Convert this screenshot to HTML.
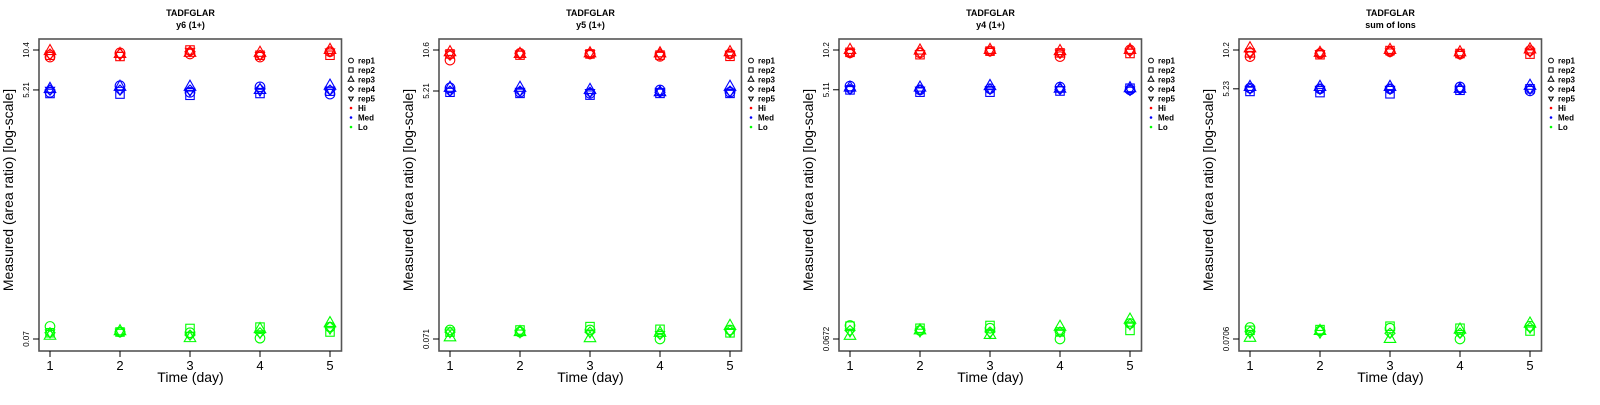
<!DOCTYPE html>
<html><head><meta charset="utf-8"><style>
body{margin:0;background:#fff;width:1600px;height:400px;overflow:hidden}
svg text{font-family:"Liberation Sans",sans-serif}
</style></head><body>
<svg id="chart" width="1600" height="400" xmlns="http://www.w3.org/2000/svg"></svg>
<script>
const days = [1,2,3,4,5];
const reps = ["rep1","rep2","rep3","rep4","rep5"];
const titles = ["y6 (1+)","y5 (1+)","y4 (1+)","sum of Ions"];
const tickTop = [10.4,10.6,10.2,10.2];
const tickMid = [5.21,5.21,5.11,5.23];
const tickLow = [0.07,0.071,0.0672,0.0706];
// [panel][rep][day]
const hiVals = [
 [[9.2,9.9,9.7,9.2,10.1],[9.5,9.3,10.4,9.5,9.5],[10.2,9.7,9.9,9.9,10.4],[9.7,9.7,10.1,9.5,10.1],[9.5,9.5,10.2,9.5,10.1]],
 [[8.9,10.0,9.9,9.5,9.9],[9.9,9.7,9.9,9.7,9.5],[10.2,9.9,10.0,10.0,10.2],[9.7,10.0,9.9,9.9,9.9],[9.9,9.9,10.0,9.7,9.9]],
 [[9.7,9.7,10.0,9.1,10.2],[9.8,9.4,10.0,9.7,9.6],[10.2,10.1,10.2,10.0,10.2],[9.7,9.8,10.0,9.6,10.0],[9.8,9.6,10.0,9.7,9.9]],
 [[9.1,9.6,9.9,9.5,10.1],[9.7,9.4,10.1,9.6,9.5],[10.5,9.7,10.2,9.8,10.3],[9.9,9.6,9.9,9.5,9.9],[9.5,9.6,9.9,9.5,9.9]]
];
const medVals = [
 [[5.0,5.6,5.0,5.5,4.85],[4.9,4.85,4.75,4.9,5.1],[5.3,5.5,5.5,5.2,5.6],[5.2,5.2,5.2,5.3,5.2],[5.2,5.2,5.1,5.1,5.2]],
 [[5.5,5.1,5.0,5.3,5.1],[5.1,5.0,4.85,5.0,5.0],[5.5,5.5,5.3,5.1,5.6],[5.2,5.2,5.1,5.1,5.2],[5.2,5.2,5.1,5.2,5.1]],
 [[5.45,5.1,5.2,5.35,5.1],[5.1,4.9,4.9,5.0,5.25],[5.3,5.3,5.45,5.2,5.25],[5.15,5.1,5.15,5.15,5.05],[5.15,5.1,5.15,5.15,5.1]],
 [[5.3,5.23,5.23,5.4,5.05],[5.0,4.9,4.8,5.1,5.23],[5.4,5.4,5.4,5.23,5.5],[5.23,5.2,5.2,5.2,5.2],[5.2,5.2,5.2,5.2,5.2]]
];
const loVals = [
 [[0.087,0.079,0.078,0.071,0.086],[0.078,0.079,0.084,0.086,0.079],[0.074,0.080,0.071,0.083,0.092],[0.078,0.079,0.075,0.078,0.086],[0.078,0.079,0.075,0.077,0.083]],
 [[0.083,0.080,0.083,0.071,0.083],[0.080,0.083,0.088,0.084,0.079],[0.073,0.080,0.072,0.079,0.089],[0.080,0.082,0.080,0.077,0.082],[0.079,0.079,0.079,0.077,0.080]],
 [[0.085,0.078,0.081,0.0672,0.088],[0.084,0.081,0.085,0.076,0.078],[0.071,0.078,0.072,0.083,0.094],[0.078,0.078,0.076,0.076,0.087],[0.076,0.076,0.074,0.076,0.086]],
 [[0.086,0.081,0.085,0.0706,0.088],[0.082,0.083,0.088,0.085,0.081],[0.072,0.081,0.0706,0.083,0.092],[0.080,0.081,0.078,0.078,0.086],[0.078,0.078,0.078,0.078,0.085]]
];
const levels = [["Hi","#ff0000",hiVals],["Med","#0000ff",medVals],["Lo","#00ff00",loVals]];

const NS="http://www.w3.org/2000/svg";
const svg=document.getElementById('chart');
function mk(tag,attrs,parent){const e=document.createElementNS(NS,tag);for(const k in attrs)e.setAttribute(k,attrs[k]);(parent||svg).appendChild(e);return e;}
function txt(s,attrs,parent){const t=mk('text',attrs,parent);t.textContent=s;return t;}

function symbol(g,shape,x,y,r,color,sw){
  let e;
  if(shape===0){e=mk('circle',{cx:x,cy:y,r:r,fill:'none',stroke:color,'stroke-width':sw},g);}
  else if(shape===1){e=mk('rect',{x:x-r*0.88,y:y-r*0.88,width:r*1.76,height:r*1.76,fill:'none',stroke:color,'stroke-width':sw},g);}
  else if(shape===2){const h=r*1.2;e=mk('polygon',{points:`${x},${y-h*1.15} ${x-h},${y+h*0.6} ${x+h},${y+h*0.6}`,fill:'none',stroke:color,'stroke-width':sw},g);}
  else if(shape===3){e=mk('polygon',{points:`${x},${y-r*1.05} ${x+r*1.05},${y} ${x},${y+r*1.05} ${x-r*1.05},${y}`,fill:'none',stroke:color,'stroke-width':sw},g);}
  else {const h=r*0.95;e=mk('polygon',{points:`${x},${y+h*1.1} ${x-h},${y-h*0.6} ${x+h},${y-h*0.6}`,fill:'none',stroke:color,'stroke-width':sw},g);}
  return e;
}

for(let p=0;p<4;p++){
  const ox=p*400;
  const g=mk('g',{transform:`translate(${ox},0)`});
  
  
  const xS=d=>50+(d-1)*70;
  const lT=Math.log(tickTop[p]),lL=Math.log(tickLow[p]);
  const yS=v=>50+(lT-Math.log(v))/(lT-lL)*289;

  const t1=txt('TADFGLAR',{x:190.5,y:16,'text-anchor':'middle','font-size':9,'font-weight':'bold'},g);
  
  
  const t2=txt(titles[p],{x:190.5,y:28,'text-anchor':'middle','font-size':9,'font-weight':'bold'},g);
  
  

  const box=mk('rect',{x:39,y:39,width:302.5,height:312,fill:'none',stroke:'#555','stroke-width':1.6},g);
  
  

  days.forEach(d=>{
    mk('line',{x1:xS(d),x2:xS(d),y1:351,y2:357,stroke:'#000','stroke-width':1},g);
    const tl=txt(String(d),{x:xS(d),y:370,'text-anchor':'middle','font-size':13},g);
    
    
  });
  [tickTop[p],tickMid[p],tickLow[p]].forEach(v=>{
    const y=yS(v);
    mk('line',{x1:33,x2:39,y1:y,y2:y,stroke:'#000','stroke-width':1},g);
    const tl=txt(String(v),{x:0,y:0,'text-anchor':'middle','font-size':8,transform:`translate(29,${y}) rotate(-90)`},g);
    
    
  });
  const xl=txt('Time (day)',{x:190.5,y:382,'text-anchor':'middle','font-size':14},g);
  
  
  const yl=txt('Measured (area ratio) [log-scale]',{x:0,y:0,'text-anchor':'middle','font-size':14,transform:'translate(13,190) rotate(-90)'},g);
  
  

  levels.forEach(([name,color,vals])=>{
    for(let r=0;r<5;r++){
      days.forEach((d,i)=>{
        const s=symbol(g,r,xS(d),yS(vals[p][r][i]),4.8,color,1.1);
        
        
      });
    }
  });

  const lg=mk('g',{},g);
  
  
  reps.forEach((rp,i)=>{
    const y=60.5+i*9.5;
    symbol(lg,i,351,y,2.4,'#000',1);
    const lt=txt(rp,{x:358,y:y+3,'font-size':8,'font-weight':'bold'},lg);
    
    
  });
  levels.forEach(([name,color],i)=>{
    const y=60.5+(5+i)*9.5;
    mk('circle',{cx:351,cy:y,r:1.3,fill:color},lg);
    const lt=txt(name,{x:358,y:y+3,'font-size':8,'font-weight':'bold'},lg);
    
    
  });
}
</script>
</body></html>
